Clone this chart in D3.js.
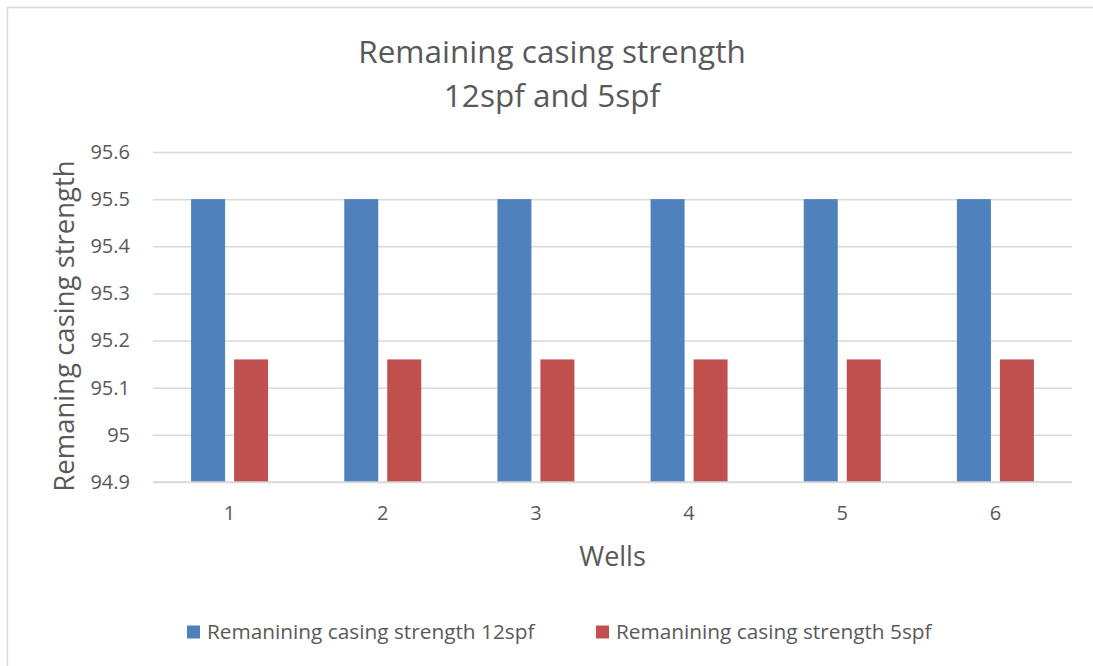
<!DOCTYPE html>
<html>
<head>
<meta charset="utf-8">
<script src="https://cdn.jsdelivr.net/npm/d3@7"></script>
<style>
  html, body { margin: 0; padding: 0; background: #fff; overflow: hidden; }
  svg { display: block; font-family: "Open Sans", "Noto Sans", sans-serif; }
</style>
</head>
<body>
<svg id="chart" width="1093" height="666"></svg>
<script>
// Well numbers along the x axis
const wells = ["1", "2", "3", "4", "5", "6"];
// Series names as shown in the legend
const seriesNames = ["Remanining casing strength 12spf", "Remanining casing strength 5spf"];
// Remaining casing strength per well
const strength12spf = [95.5, 95.5, 95.5, 95.5, 95.5, 95.5];
const strength5spf = [95.16, 95.16, 95.16, 95.16, 95.16, 95.16];
// Y axis ticks and their labels
const yTickValues = [94.9, 95.0, 95.1, 95.2, 95.3, 95.4, 95.5, 95.6];
const yTickLabels = ["94.9", "95", "95.1", "95.2", "95.3", "95.4", "95.5", "95.6"];
const seriesColors = ["#4f81bd", "#c0504d"];

const svg = d3.select("#chart");
const textColor = "#595959";
const gridColor = "#d9d9d9";

const plot = { left: 153, right: 1072, top: 152, bottom: 482 };

// Outer chart frame (runs past the right and bottom edges)
svg.append("rect")
  .attr("x", 7.5).attr("y", 7.5)
  .attr("width", 1200).attr("height", 800)
  .attr("fill", "#fff")
  .attr("stroke", gridColor).attr("stroke-width", 1.5);

const y = d3.scaleLinear().domain([94.9, 95.6]).range([plot.bottom, plot.top]);
const x0 = d3.scaleBand().domain(wells).range([plot.left, plot.right]).paddingInner(0).paddingOuter(0);
const groupWidth = 77;
const x1 = d3.scaleBand().domain(seriesNames).range([0, groupWidth]).paddingInner(0.209).paddingOuter(0);

// Horizontal gridlines + y tick labels
const yAxis = d3.axisLeft(y)
  .tickValues(yTickValues)
  .tickFormat((d, i) => yTickLabels[i])
  .tickSize(-(plot.right - plot.left))
  .tickPadding(23);

const gy = svg.append("g")
  .attr("transform", `translate(${plot.left},0)`)
  .call(yAxis);
gy.select(".domain").remove();
gy.selectAll(".tick line").attr("stroke", gridColor).attr("stroke-width", 1.5);
gy.selectAll(".tick text")
  .attr("fill", textColor)
  .style("font-size", "20px")
  .style("font-family", "'Open Sans', sans-serif");

// Bars
const rows = wells.map((w, i) => ({ well: w, values: [strength12spf[i], strength5spf[i]] }));
const groups = svg.append("g").selectAll("g")
  .data(rows)
  .join("g")
  .attr("transform", d => `translate(${x0(d.well) + (x0.bandwidth() - groupWidth) / 2},0)`);

groups.selectAll("rect")
  .data(d => d.values.map((v, k) => ({ name: seriesNames[k], value: v, k })))
  .join("rect")
  .attr("x", d => x1(d.name))
  .attr("width", x1.bandwidth())
  .attr("y", d => y(d.value))
  .attr("height", d => y(94.9) - y(d.value))
  .attr("fill", d => seriesColors[d.k]);

// Baseline redrawn over bars
svg.append("line")
  .attr("x1", plot.left).attr("x2", plot.right)
  .attr("y1", y(94.9)).attr("y2", y(94.9))
  .attr("stroke", gridColor).attr("stroke-width", 1.5);

// X axis labels
const xAxis = d3.axisBottom(x0).tickSize(0).tickPadding(24);
const gx = svg.append("g")
  .attr("transform", `translate(0,${plot.bottom})`)
  .call(xAxis);
gx.select(".domain").remove();
gx.selectAll(".tick text")
  .attr("fill", textColor)
  .style("font-size", "20px")
  .style("font-family", "'Open Sans', sans-serif");

// Title
const title = svg.append("text")
  .attr("text-anchor", "middle")
  .attr("fill", textColor)
  .style("font-size", "31.5px");
title.append("tspan").attr("x", 552).attr("y", 63).text("Remaining casing strength");
title.append("tspan").attr("x", 552).attr("y", 107).text("12spf and 5spf");

// Axis titles
svg.append("text")
  .attr("x", (plot.left + plot.right) / 2).attr("y", 566)
  .attr("text-anchor", "middle")
  .attr("fill", textColor)
  .style("font-size", "27px")
  .text("Wells");

svg.append("text")
  .attr("transform", `translate(74,326) rotate(-90)`)
  .attr("text-anchor", "middle")
  .attr("fill", textColor)
  .style("font-size", "27.5px")
  .text("Remaning casing strength");

// Legend
const legendX = [187, 596];
const legend = svg.append("g").selectAll("g")
  .data(seriesNames)
  .join("g")
  .attr("transform", (d, i) => `translate(${legendX[i]},632)`);
legend.append("rect")
  .attr("x", 0).attr("y", -6.5)
  .attr("width", 13).attr("height", 13)
  .attr("fill", (d, i) => seriesColors[i]);
legend.append("text")
  .attr("x", 20).attr("y", 0)
  .attr("dy", "0.35em")
  .attr("fill", textColor)
  .style("font-size", "20.8px")
  .text(d => d);
</script>
</body>
</html>
